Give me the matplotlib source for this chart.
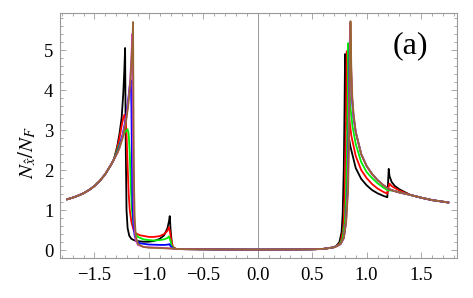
import matplotlib
matplotlib.use("Agg")
import matplotlib.pyplot as plt
from matplotlib.ticker import MultipleLocator

plt.rcParams['font.family'] = ['Liberation Serif', 'DejaVu Serif']
plt.rcParams['mathtext.fontset'] = 'stix'

# shared pieces of the curves
tail_x = [-1.75, -1.70, -1.65, -1.60, -1.55, -1.50, -1.45, -1.40, -1.35, -1.32]
tail_y = [1.27, 1.31, 1.36, 1.42, 1.50, 1.60, 1.73, 1.90, 2.12, 2.27]
mid_x = [-0.70, -0.50, -0.30, 0.00, 0.30, 0.50]
mid_y = [0.025, 0.02, 0.015, 0.012, 0.015, 0.02]
end_x = [1.40, 1.50, 1.60, 1.70, 1.75]
end_y = [1.38, 1.31, 1.25, 1.21, 1.19]

# black
left_x_black = [-1.29, -1.27, -1.25, -1.235, -1.225, -1.218, -1.212, -1.205, -1.195, -1.18, -1.16,
                -1.12, -1.05, -1.0, -0.95, -0.9, -0.86, -0.83, -0.815, -0.808, -0.80, -0.79, -0.78, -0.75]
left_y_black = [2.6, 2.9, 3.3, 3.9, 4.5, 5.05, 2.6, 1.0, 0.55, 0.36, 0.28,
                0.23, 0.21, 0.21, 0.23, 0.28, 0.37, 0.54, 0.72, 0.85, 0.5, 0.2, 0.07, 0.03]
right_x_black = [0.6, 0.68, 0.72, 0.75, 0.77, 0.78, 0.79, 0.797, 0.802, 0.81, 0.82, 0.85, 0.9,
                 0.95, 1.0, 1.05, 1.1, 1.15, 1.19, 1.197, 1.203, 1.21, 1.23, 1.26, 1.3]
right_y_black = [0.03, 0.06, 0.1, 0.2, 0.45, 0.9, 2.0, 3.5, 4.9, 3.6, 3.1, 2.6, 2.05,
                 1.78, 1.62, 1.5, 1.42, 1.36, 1.32, 1.7, 2.03, 1.85, 1.7, 1.6, 1.52]

# red
left_x_red = [-1.29, -1.27, -1.25, -1.235, -1.225, -1.215, -1.205, -1.195, -1.185, -1.175, -1.16,
              -1.14, -1.12, -1.08, -1.0, -0.95, -0.9, -0.86, -0.83, -0.815, -0.805, -0.795, -0.78, -0.75]
left_y_red = [2.55, 2.8, 3.1, 3.3, 3.38, 3.3, 2.9, 2.1, 1.4, 1.0, 0.7,
              0.5, 0.42, 0.37, 0.33, 0.33, 0.35, 0.4, 0.48, 0.57, 0.45, 0.25, 0.08, 0.03]
right_x_red = [0.6, 0.68, 0.73, 0.76, 0.785, 0.795, 0.805, 0.812, 0.818, 0.825, 0.835, 0.86, 0.9,
               0.95, 1.0, 1.05, 1.1, 1.15, 1.19, 1.2, 1.21, 1.23, 1.26, 1.3]
right_y_red = [0.03, 0.06, 0.1, 0.2, 0.5, 1.0, 2.2, 3.6, 4.97, 4.0, 3.4, 2.85, 2.35,
               2.0, 1.8, 1.65, 1.54, 1.46, 1.41, 1.55, 1.66, 1.6, 1.55, 1.49]

# green
left_x_green = [-1.29, -1.27, -1.24, -1.21, -1.195, -1.185, -1.175, -1.165, -1.155, -1.14, -1.12,
                -1.10, -1.05, -1.0, -0.95, -0.9, -0.86, -0.83, -0.815, -0.80, -0.79, -0.77, -0.74]
left_y_green = [2.5, 2.65, 2.85, 2.98, 3.02, 2.9, 2.4, 1.6, 1.0, 0.6, 0.4,
                0.33, 0.27, 0.25, 0.24, 0.25, 0.27, 0.3, 0.34, 0.22, 0.1, 0.04, 0.025]
right_x_green = [0.6, 0.7, 0.75, 0.78, 0.8, 0.81, 0.82, 0.827, 0.832, 0.84, 0.85, 0.87, 0.9,
                 0.95, 1.0, 1.05, 1.1, 1.15, 1.19, 1.25, 1.3]
right_y_green = [0.03, 0.07, 0.14, 0.3, 0.7, 1.3, 2.5, 3.8, 5.17, 4.2, 3.6, 3.1, 2.65,
                 2.2, 1.95, 1.8, 1.67, 1.57, 1.5, 1.48, 1.45]

# blue
left_x_blue = [-1.29, -1.27, -1.24, -1.21, -1.19, -1.175, -1.165, -1.16, -1.155, -1.15, -1.14,
               -1.13, -1.11, -1.08, -1.0, -0.9, -0.85, -0.82, -0.81, -0.80, -0.78, -0.75]
left_y_blue = [2.45, 2.6, 2.9, 3.3, 3.75, 4.1, 4.25, 3.6, 2.2, 1.2, 0.6,
               0.35, 0.22, 0.17, 0.14, 0.13, 0.13, 0.14, 0.15, 0.1, 0.04, 0.025]
right_x_blue = [0.6, 0.7, 0.76, 0.79, 0.81, 0.825, 0.835, 0.842, 0.848, 0.855, 0.865, 0.88, 0.9,
                0.95, 1.0, 1.05, 1.1, 1.15, 1.2, 1.25, 1.3]
right_y_blue = [0.03, 0.07, 0.15, 0.3, 0.7, 1.5, 3.0, 4.5, 5.67, 4.6, 3.8, 3.3, 2.95,
                2.4, 2.1, 1.9, 1.75, 1.63, 1.53, 1.48, 1.44]

# magenta
left_x_magenta = [-1.29, -1.27, -1.24, -1.21, -1.19, -1.17, -1.16, -1.152, -1.147, -1.14, -1.13,
                  -1.12, -1.10, -1.05, -1.0, -0.9, -0.8, -0.75]
left_y_magenta = [2.42, 2.55, 2.85, 3.25, 3.65, 4.3, 4.85, 5.4, 3.0, 1.2, 0.5,
                  0.25, 0.13, 0.08, 0.07, 0.06, 0.04, 0.03]
right_x_magenta = [0.6, 0.7, 0.76, 0.79, 0.81, 0.827, 0.837, 0.844, 0.85, 0.857, 0.867, 0.88, 0.9,
                   0.95, 1.0, 1.05, 1.1, 1.15, 1.2, 1.25, 1.3]
right_y_magenta = [0.03, 0.07, 0.15, 0.3, 0.7, 1.5, 3.0, 4.5, 5.67, 4.6, 3.8, 3.35, 2.95,
                   2.4, 2.1, 1.9, 1.75, 1.63, 1.53, 1.48, 1.44]

# brown
left_x_brown = [-1.29, -1.27, -1.24, -1.21, -1.19, -1.17, -1.16, -1.15, -1.145, -1.14, -1.135,
                -1.13, -1.12, -1.10, -1.05, -1.0, -0.9, -0.8, -0.75]
left_y_brown = [2.42, 2.55, 2.8, 3.2, 3.6, 4.2, 4.7, 5.25, 5.7, 3.0, 1.5,
                0.8, 0.35, 0.15, 0.08, 0.06, 0.05, 0.04, 0.03]
right_x_brown = [0.6, 0.7, 0.76, 0.79, 0.812, 0.83, 0.84, 0.847, 0.852, 0.859, 0.869, 0.88, 0.9,
                 0.95, 1.0, 1.05, 1.1, 1.15, 1.2, 1.25, 1.3]
right_y_brown = [0.03, 0.07, 0.15, 0.3, 0.7, 1.5, 3.0, 4.5, 5.72, 4.6, 3.8, 3.4, 2.95,
                 2.4, 2.1, 1.9, 1.75, 1.63, 1.53, 1.48, 1.44]

series = [
    ("black", left_x_black, left_y_black, right_x_black, right_y_black),
    ("#ff0000", left_x_red, left_y_red, right_x_red, right_y_red),
    ("#00ee00", left_x_green, left_y_green, right_x_green, right_y_green),
    ("#0000ff", left_x_blue, left_y_blue, right_x_blue, right_y_blue),
    ("#dd33dd", left_x_magenta, left_y_magenta, right_x_magenta, right_y_magenta),
    ("#996633", left_x_brown, left_y_brown, right_x_brown, right_y_brown),
]

fig = plt.figure(figsize=(4.73, 2.98), dpi=100)
ax = fig.add_axes([0.1275, 0.1352, 0.8387, 0.8212])

ax.axvline(0, color="#888888", lw=0.6, zorder=1)

for color, lx, ly, rx, ry in series:
    xs = tail_x + lx + mid_x + rx + end_x
    ys = tail_y + ly + mid_y + ry + end_y
    ax.plot(xs, ys, color=color, lw=1.3, zorder=2)

ax.set_xlim(-1.813, 1.83)
ax.set_ylim(-0.19, 5.925)
ax.xaxis.set_major_locator(MultipleLocator(0.5))
ax.xaxis.set_minor_locator(MultipleLocator(0.1))
ax.yaxis.set_major_locator(MultipleLocator(1))
ax.yaxis.set_minor_locator(MultipleLocator(0.2))
ax.xaxis.set_major_formatter(plt.FuncFormatter(lambda v, p: f"{v:.1f}".replace("-", "\u2212")))

for s in ax.spines.values():
    s.set_color("#999999")
    s.set_linewidth(0.8)
ax.tick_params(which="both", direction="in", top=True, right=True, color="#999999",
               labelsize=13.5, width=0.6)
ax.tick_params(which="major", length=4)
ax.tick_params(which="minor", length=2)
ax.tick_params(axis="x", pad=7)
ax.tick_params(axis="y", pad=5)

fig.text(27 / 473, 1 - 153 / 298, r"$N_{\hat{x}}/N_F$", rotation=90,
         ha="center", va="center", fontsize=15)
fig.text(410 / 473, 1 - 46 / 298, "(a)", ha="center", va="center", fontsize=23)

fig.savefig("out.png", dpi=100)
